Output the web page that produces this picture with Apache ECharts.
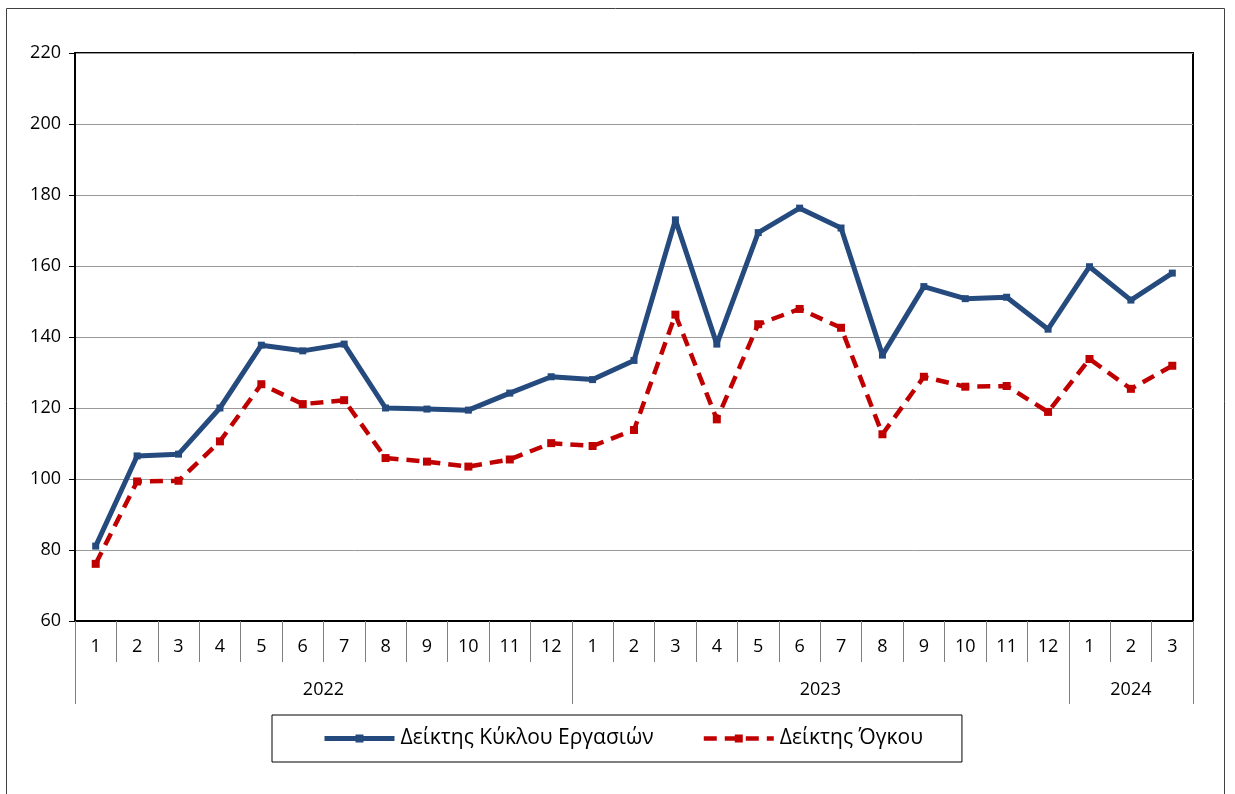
<!DOCTYPE html>
<html>
<head>
<meta charset="utf-8">
<script src="https://cdn.jsdelivr.net/npm/echarts@6/dist/echarts.min.js"></script>
<style>
  html, body { margin: 0; padding: 0; background: #fff; }
  #chart { width: 1235px; height: 794px; }
</style>
</head>
<body>
<div id="chart"></div>
<script>
// months shown on the first axis row
const monthLabels = [
  '1', '2', '3', '4', '5', '6', '7', '8', '9', '10', '11', '12',
  '1', '2', '3', '4', '5', '6', '7', '8', '9', '10', '11', '12',
  '1', '2', '3'
];
// second axis row: years and how many months each covers
const years = ['2022', '2023', '2024'];
const monthsPerYear = [12, 12, 3];

const seriesNames = ['Δείκτης Κύκλου Εργασιών', 'Δείκτης Όγκου'];
const turnoverIndex = [
  81.1, 106.5, 107.0, 120.0, 137.7, 136.1, 138.0, 120.0, 119.7, 119.4, 124.2, 128.8,
  128.0, 133.4, 173.0, 138.0, 169.4, 176.3, 170.7, 134.9, 154.2, 150.8, 151.2, 142.2,
  159.8, 150.4, 158.0
];
const volumeIndex = [
  76.1, 99.3, 99.5, 110.6, 126.7, 121.1, 122.2, 105.9, 104.9, 103.5, 105.5, 110.1,
  109.3, 113.8, 146.3, 116.8, 143.6, 147.9, 142.6, 112.6, 128.8, 126.0, 126.2, 118.9,
  133.8, 125.4, 131.9
];

const yMin = 60, yMax = 220, yStep = 20;

// year boundaries and centres, in month units
const yearEdges = [0];
monthsPerYear.forEach(n => yearEdges.push(yearEdges[yearEdges.length - 1] + n));
const yearCentres = monthsPerYear.map((n, i) => yearEdges[i] + n / 2);

const font = "'Open Sans', sans-serif";
const chart = echarts.init(document.getElementById('chart'));

chart.setOption({
  animation: false,
  textStyle: { fontFamily: font, color: '#000' },
  graphic: [{
    type: 'rect',
    shape: { x: 6.5, y: 8.5, width: 1218, height: 820 },
    style: { fill: 'none', stroke: '#404040', lineWidth: 1 },
    silent: true
  }],
  grid: {
    left: 75, right: 42, top: 53, bottom: 173,
    show: true, borderColor: '#000', borderWidth: 2,
    backgroundColor: 'transparent',
    containLabel: false, outerBoundsMode: 'none'
  },
  legend: {
    data: [
      { name: seriesNames[0], lineStyle: { width: 5 } },
      { name: seriesNames[1], lineStyle: { width: 4.5 } }
    ],
    left: 272, top: 715,
    padding: [13, 39, 13, 50],
    borderColor: '#000', borderWidth: 1,
    itemWidth: 70, itemHeight: 10, itemGap: 48,
    textStyle: { fontFamily: font, fontSize: 21, color: '#000', padding: [0, 0, 0, 1] }
  },
  xAxis: [{
    type: 'category',
    data: monthLabels,
    boundaryGap: true,
    axisLine: { show: true, lineStyle: { color: '#000', width: 2 } },
    axisTick: { show: true, interval: 0, length: 41, lineStyle: { color: '#7f7f7f', width: 1 } },
    axisLabel: { interval: 0, margin: 17, fontSize: 18, color: '#000', fontFamily: font },
    splitLine: { show: false }
  }, {
    type: 'value',
    position: 'bottom',
    min: 0,
    max: yearEdges[yearEdges.length - 1],
    axisLine: { show: false },
    splitLine: { show: false },
    axisTick: {
      show: true, length: 83, customValues: yearEdges,
      lineStyle: { color: '#7f7f7f', width: 1 }
    },
    axisLabel: {
      customValues: yearCentres, margin: 60, fontSize: 18, color: '#000', fontFamily: font,
      formatter: v => {
        const i = yearCentres.indexOf(v);
        return i >= 0 ? years[i] : '';
      }
    }
  }],
  yAxis: {
    type: 'value',
    min: yMin, max: yMax, interval: yStep,
    axisLine: { show: true, lineStyle: { color: '#000', width: 2 } },
    axisTick: { show: true, length: 6, lineStyle: { color: '#000', width: 1 } },
    axisLabel: { margin: 14, fontSize: 18, color: '#000', fontFamily: font },
    splitLine: { show: true, lineStyle: { color: '#999', width: 1 } }
  },
  series: [{
    name: seriesNames[0],
    type: 'line',
    data: turnoverIndex,
    symbol: 'rect', symbolSize: 7,
    itemStyle: { color: '#254a7e' },
    lineStyle: { color: '#254a7e', width: 5 }
  }, {
    name: seriesNames[1],
    type: 'line',
    data: volumeIndex,
    symbol: 'rect', symbolSize: 8,
    itemStyle: { color: '#c00000' },
    lineStyle: { color: '#c00000', width: 4.5, type: [13, 8] }
  }]
});
</script>
</body>
</html>
